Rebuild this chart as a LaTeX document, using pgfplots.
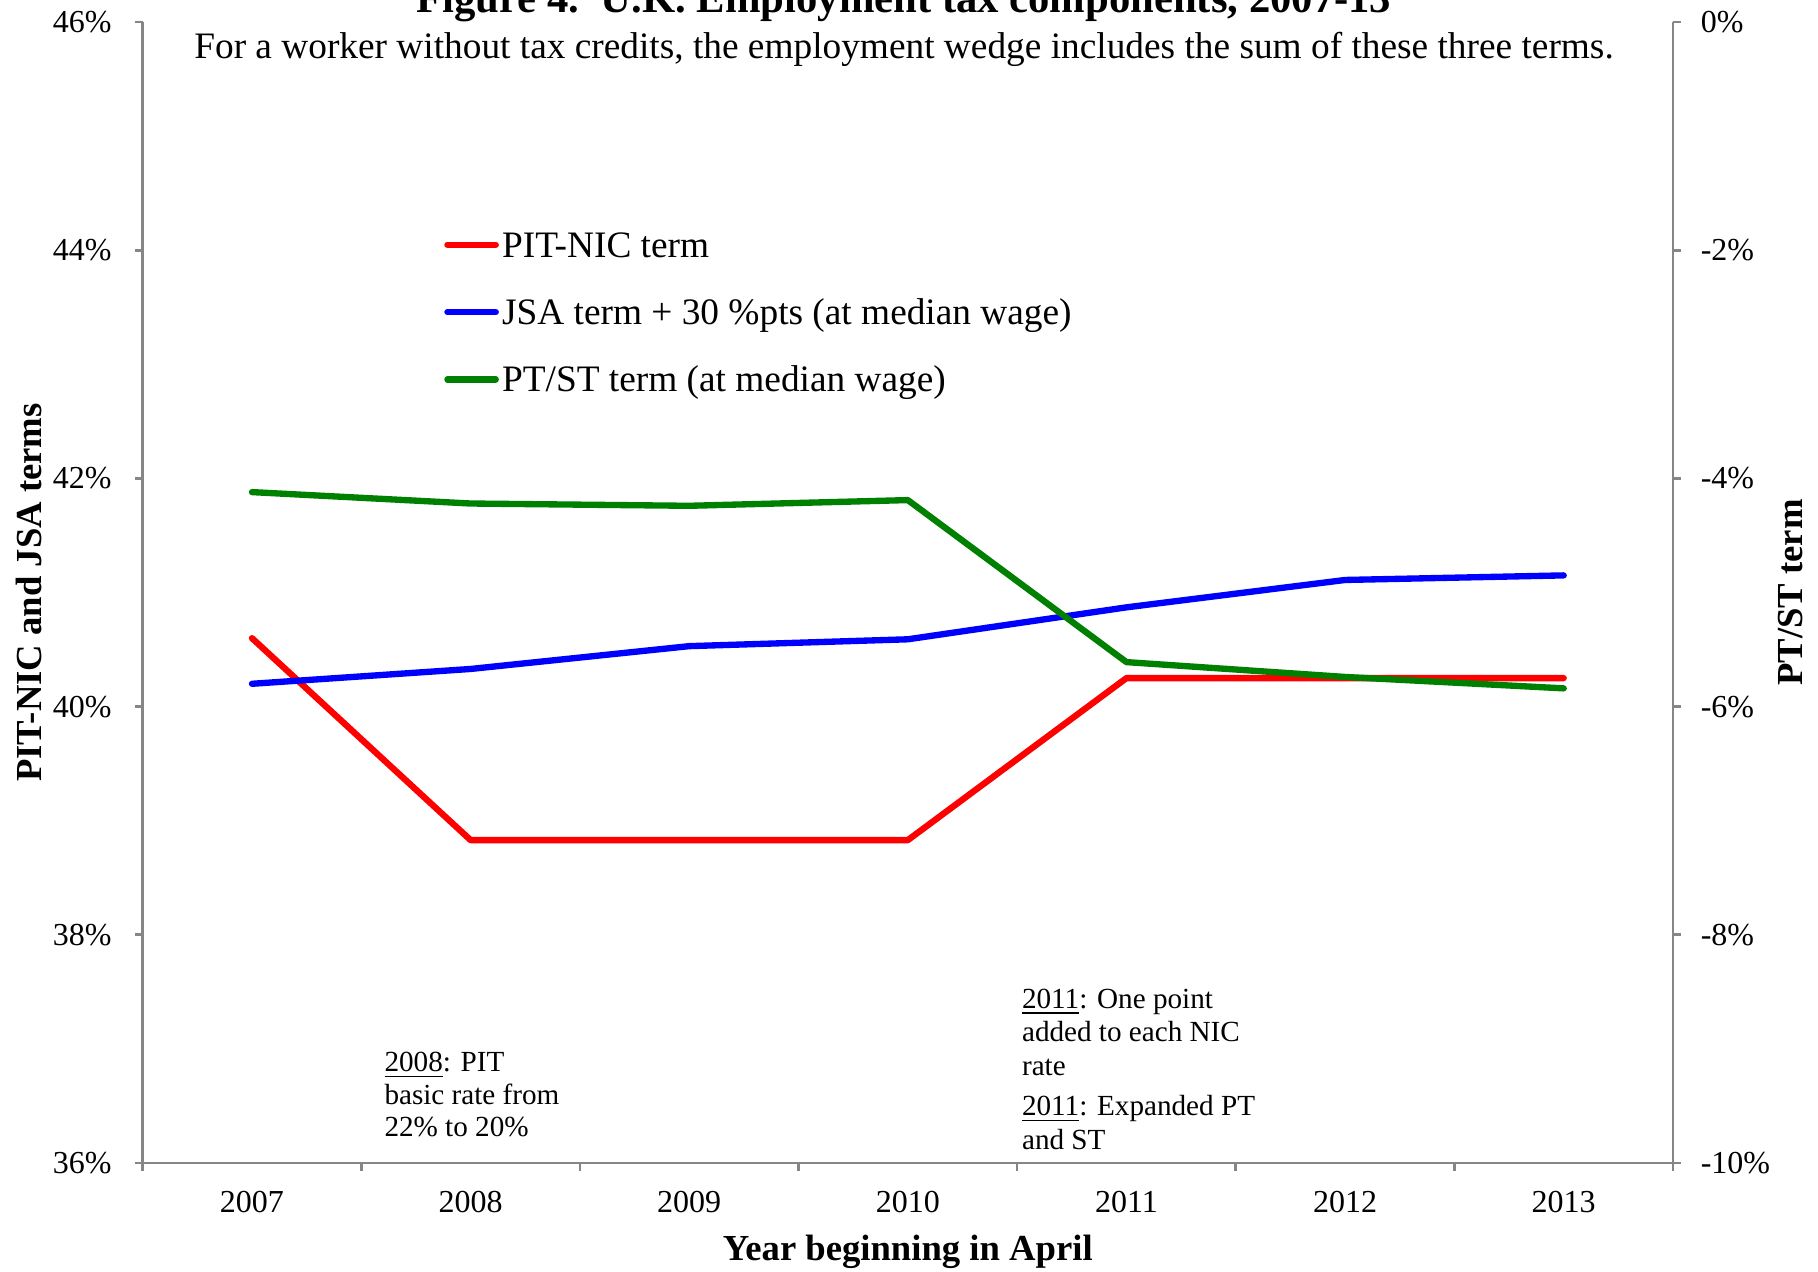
\documentclass[border=0pt]{standalone}
\usepackage{fontspec}
\setmainfont{Liberation Serif}
\usepackage{pgfplots}
\pgfplotsset{compat=1.18}
\definecolor{axgray}{RGB}{134,134,134}
\definecolor{xlgreen}{RGB}{0,128,0}

\begin{document}
\begin{tikzpicture}
\pgfplotsset{
  base/.style={
    scale only axis, width=459.1pt, height=342.3pt,
    at={(0pt,0pt)}, anchor=south west,
    xmin=-0.5, xmax=6.5,
    axis line style={axgray, line width=0.8pt, -},
    tick style={axgray, line width=0.8pt},
    major tick length=2.4pt, minor tick length=2.4pt,
    tick label style={font=\fontsize{9.6}{11}\selectfont, black},
    label style={font=\fontsize{11}{13}\selectfont\bfseries},
    /pgf/number format/assume math mode=true,
    yticklabel={\pgfmathprintnumber{\tick}\%},
    every axis plot/.append style={line width=1.9pt, line cap=round, line join=round},
    clip=false,
  }
}
\begin{axis}[base,
  axis x line*=bottom, axis y line*=left, tick align=outside,
  ymin=36, ymax=46, ytick={36,38,...,46},
  yticklabel style={xshift=-3.4pt},
  xtick={0,...,6},
  xticklabels={2007,2008,2009,2010,2011,2012,2013},
  xticklabel style={yshift=-2.6pt},
  major x tick style={draw=none},
  minor xtick={-0.5,0.5,...,6.5},
  xlabel={Year beginning in April},
  xlabel style={at={(axis description cs:0.5,-0.0781)}, anchor=center},
  ylabel={PIT-NIC and JSA terms},
  ylabel style={at={(axis description cs:-0.0741,0.5)}, anchor=center},
  legend style={draw=none, fill=none, inner sep=0pt, outer sep=0pt,
    at={(rel axis cs:0.195,0.743)}, anchor=west,
    font=\fontsize{11.2}{13}\selectfont,
    column sep=0pt, row sep=9.7pt,
    cells={anchor=base west},
    nodes={inner sep=0pt, text height=8pt, text depth=2.5pt}},
  legend image code/.code={
    \path (0pt,0pt) (16.4pt,0pt);
    \draw[#1, line width=1.9pt, line cap=round] (0.95pt,3.7pt) -- (15.45pt,3.7pt);},
]
% PIT-NIC term
\addplot[red] coordinates {
  (0,40.60) (1,38.83) (2,38.83) (3,38.83) (4,40.25) (5,40.25) (6,40.25)
};
\addlegendentry{PIT-NIC term}
% JSA term + 30 pts
\addplot[blue] coordinates {
  (0,40.20) (1,40.33) (2,40.53) (3,40.59) (4,40.87) (5,41.11) (6,41.15)
};
\addlegendentry{JSA term + 30 \%pts (at median wage)}
\addlegendimage{xlgreen}
\addlegendentry{PT/ST term (at median wage)}

% titles
\node[anchor=base, font=\fontsize{12.8}{15}\selectfont\bfseries]
  at (rel axis cs:0.4975,1.0082) {Figure 4.\ \ U.K. Employment tax components, 2007-13};
\node[anchor=base, font=\fontsize{11.2}{13}\selectfont]
  at (rel axis cs:0.4975,0.9676) {For a worker without tax credits, the employment wedge includes the sum of these three terms.};

% notes
\begin{scope}[every node/.style={anchor=base west, inner sep=0pt, font=\fontsize{8.75}{10}\selectfont}]
\node at (rel axis cs:0.1576,0.0800) {\underline{2008}: PIT};
\node at (rel axis cs:0.1576,0.0516) {basic rate from};
\node at (rel axis cs:0.1576,0.0230) {22\% to 20\%};
\node at (rel axis cs:0.5742,0.1358) {\underline{2011}: One point};
\node at (rel axis cs:0.5742,0.1066) {added to each NIC};
\node at (rel axis cs:0.5742,0.0771) {rate};
\node at (rel axis cs:0.5742,0.0414) {\underline{2011}: Expanded PT};
\node at (rel axis cs:0.5742,0.0119) {and ST};
\end{scope}
\end{axis}

\begin{axis}[base,
  axis x line=none, axis y line*=right, tick align=outside,
  ymin=-10, ymax=0, ytick={-10,-8,...,0},
  yticklabel style={xshift=2.4pt},
  ylabel={PT/ST term},
  ylabel style={at={(axis description cs:1.0771,0.5)}, anchor=center, rotate=0},
]
% PT/ST term
\addplot[xlgreen] coordinates {
  (0,-4.12) (1,-4.22) (2,-4.24) (3,-4.19) (4,-5.61) (5,-5.74) (6,-5.84)
};
\end{axis}

\pgfresetboundingbox
\useasboundingbox (-42.8pt,-32.4pt) rectangle (502.6pt,348.9pt);
\end{tikzpicture}
\end{document}
